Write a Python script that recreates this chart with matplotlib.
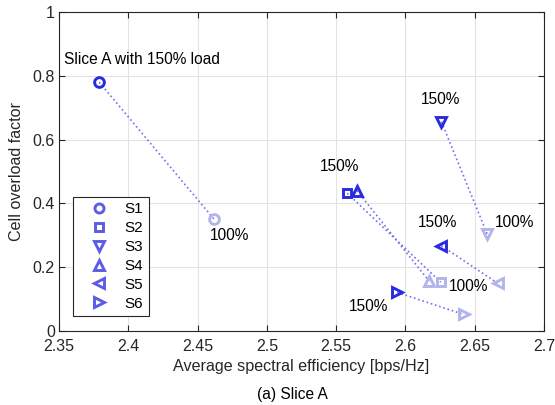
import matplotlib
matplotlib.use('Agg')
import matplotlib.pyplot as plt
from matplotlib.lines import Line2D

plt.rcParams['font.family'] = ['Liberation Sans', 'DejaVu Sans']

# series: (se, overload) at 150% load and at 100% load
series = ['S1', 'S2', 'S3', 'S4', 'S5', 'S6']
markers = ['o', 's', 'v', '^', '<', '>']
se_150 = [2.379, 2.558, 2.626, 2.565, 2.626, 2.594]
ol_150 = [0.780, 0.432, 0.656, 0.440, 0.267, 0.121]
se_100 = [2.462, 2.6255, 2.659, 2.617, 2.6665, 2.642]
ol_100 = [0.350, 0.153, 0.304, 0.157, 0.150, 0.052]

# text labels
labels = ['Slice A with 150% load', '100%', '150%', '150%', '150%', '100%', '100%', '150%']
label_x = [2.3536, 2.4734, 2.6257, 2.5528, 2.6235, 2.6784, 2.6452, 2.5737]
label_y = [0.85, 0.298, 0.727, 0.517, 0.339, 0.339, 0.138, 0.078]

dark = '#2a2ae0'
light = '#b4b4ec'
line_col = '#7070f0'
leg_col = '#5c5ce6'

fig = plt.figure(figsize=(5.55, 4.05), dpi=100)
ax = fig.add_axes([59/555, 1-331/405, 485/555, 319/405])

def msize(m):
    return 5.8 if m == 's' else 7

for i in range(len(series)):
    ax.plot([se_150[i], se_100[i]], [ol_150[i], ol_100[i]], ':', color=line_col,
            lw=1.2, zorder=2)
    ax.plot(se_100[i], ol_100[i], marker=markers[i], ms=msize(markers[i]), mfc='none',
            mec=light, mew=2.1, ls='none', zorder=3)
    ax.plot(se_150[i], ol_150[i], marker=markers[i], ms=msize(markers[i]), mfc='none',
            mec=dark, mew=2.1, ls='none', zorder=4)

for t, x, y in zip(labels, label_x, label_y):
    ha = 'left' if t.startswith('Slice') else 'center'
    ax.text(x, y, t, ha=ha, va='center', fontsize=11.2, color='black')

ax.set_xlim(2.35, 2.7)
ax.set_ylim(0, 1)
ax.set_xticks([2.35, 2.4, 2.45, 2.5, 2.55, 2.6, 2.65, 2.7])
ax.set_xticklabels(['2.35', '2.4', '2.45', '2.5', '2.55', '2.6', '2.65', '2.7'])
ax.set_yticks([0, 0.2, 0.4, 0.6, 0.8, 1])
ax.set_yticklabels(['0', '0.2', '0.4', '0.6', '0.8', '1'])
ax.grid(True, color='#e3e3e3', lw=0.8)
ax.set_axisbelow(True)
ax.tick_params(direction='in', top=True, right=True, labelsize=11.5, colors='#262626',
               length=4)
ax.tick_params(axis='x', pad=6)
ax.tick_params(axis='y', pad=3)
for s in ax.spines.values():
    s.set_color('#262626')
    s.set_linewidth(0.8)
ax.set_xlabel('Average spectral efficiency [bps/Hz]', fontsize=11.6, color='#262626',
              labelpad=3)
ax.set_ylabel('Cell overload factor', fontsize=11.6, color='#262626', labelpad=6)

handles = [Line2D([], [], marker=m, ms=msize(m) - 0.5, mfc='none', mec=leg_col, mew=2.1,
                  ls='none') for m in markers]
leg = ax.legend(handles, series, loc='lower left', bbox_to_anchor=(0.029, 0.047),
                borderaxespad=0, fontsize=11, fancybox=False, framealpha=1,
                edgecolor='#262626', labelspacing=0.32, handletextpad=0.3,
                handlelength=2.72, borderpad=0.35)
leg.get_frame().set_linewidth(0.8)

fig.text(292/555, 1-394/405, '(a) Slice A', ha='center', va='center', fontsize=11.2)

fig.savefig('out.png', dpi=100)
